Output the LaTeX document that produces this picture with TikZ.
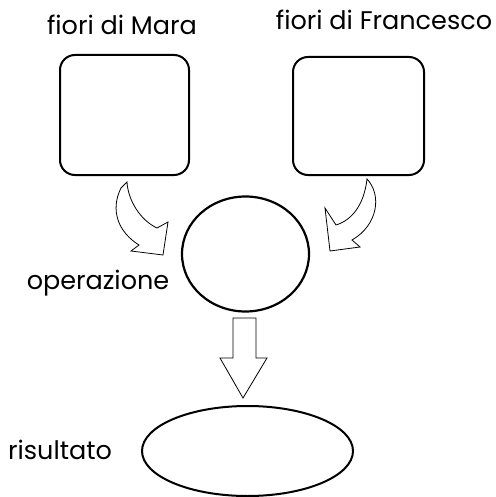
\documentclass[tikz,border=0pt]{standalone}
\usepackage{fontspec}
\setmainfont{Poppins}
\usepackage{tikz}
\usetikzlibrary{shapes.geometric}

\begin{document}
\begin{tikzpicture}[x=1pt,y=-1pt,
	flowerbox/.style={draw, line width=2pt, rounded corners=15pt, minimum width=129pt, minimum height=120pt},
	opshape/.style={draw, ellipse, line width=2.2pt},
	lbl/.style={font=\fontsize{25.5}{28}\selectfont},
	blockarrow/.style={draw, line width=0.8pt, fill=white}]
			\useasboundingbox (0,0) rectangle (495,497);

			% The boxes
			\node[flowerbox] (mara) at (124.5,115) {};
			\node[flowerbox, minimum width=131pt, minimum height=118pt] (francesco) at (358.5,116) {};
			\node[lbl] (maralbl) at (122,25) {fiori di Mara};
			\node[lbl] (francescolbl) at (384,20) {fiori di Francesco};

			% The operation and the result
			\node[opshape, minimum width=127pt, minimum height=115pt] (op) at (245.5,254) {};
			\node[opshape, line width=2pt, minimum width=211pt, minimum height=90pt] (ris) at (247.5,451) {};
			\node[lbl] (oplbl) at (98,283) {operazione};
			\node[lbl] (rislbl) at (60,450) {risultato};

			% The arrows
			\draw[blockarrow] (127,182) -- (121,188) .. controls (110,210) and (118,232) .. (139,245)
				-- (131,251) -- (163,255) -- (168,222) -- (157,228) .. controls (140,220) and (128,200) .. (127,182) -- cycle;
			\draw[blockarrow] (367,179) .. controls (382,195) and (378,225) .. (352,240)
				-- (360,247) -- (330,251) -- (325,208) -- (336,225) .. controls (352,220) and (364,205) .. (367,179) -- cycle;
			\draw[blockarrow] (233,318) -- (256,318) -- (256,358) -- (267,358) -- (243,398) -- (220,358) -- (233,358) -- cycle;
		\end{tikzpicture}
\end{document}
